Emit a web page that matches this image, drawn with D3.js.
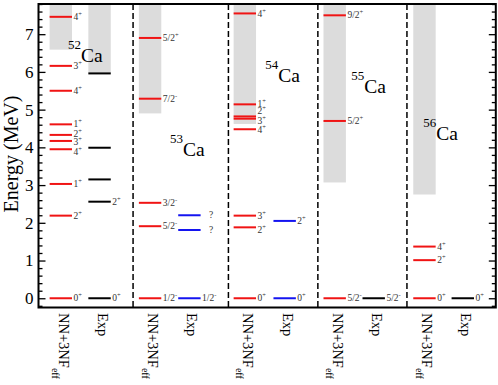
<!DOCTYPE html>
<html><head><meta charset="utf-8">
<script src="https://cdn.jsdelivr.net/npm/d3@7"></script>
<style>body{margin:0;background:#fff} svg text{font-family:"Liberation Serif","Times New Roman","DejaVu Serif",serif;}</style>
</head><body><svg id="c" width="498" height="385"></svg>
<script>
// ---------- data ----------
const massNumbers = ["52", "53", "54", "55", "56"];
const columnNames = ["NN+3NF", "Exp"];
const theoryX = [0.488, 2.44, 4.512, 6.477, 8.44];
const expX = [1.335, 3.30, 5.383, 7.330, 9.278];
const separatorX = [2.068, 4.153, 6.109, 8.057];

const theoryE = [
  [0, 2.19, 3.03, 3.95, 4.17, 4.33, 4.61, 5.50, 6.16, 7.46],
  [0, 1.91, 2.53, 5.29, 6.90],
  [0, 1.88, 2.19, 4.48, 4.76, 4.82, 5.14, 7.55],
  [0, 4.70, 7.50],
  [0, 1.01, 1.37]
];
const theoryJ = [
  ["0+", "2+", "1+", "4+", "3+", "2+", "1+", "4+", "3+", "4+"],
  ["1/2-", "5/2-", "3/2-", "7/2-", "5/2+"],
  ["0+", "2+", "3+", "4+", "3+", "2+", "1+", "4+"],
  ["5/2-", "5/2+", "9/2+"],
  ["0+", "2+", "4+"]
];
const theoryLabelShift = [
  [0, 0, 0, -0.08, -0.03, 0.02, 0.02, 0, 0, 0],
  [0, 0, 0, 0, 0],
  [0, -0.07, 0, -0.02, -0.05, 0.16, 0.02, 0],
  [0, 0, 0],
  [0, 0, 0]
];
const expE = [
  [0, 2.56, 3.15, 3.99, 5.96],
  [0, 1.81, 2.20],
  [0, 2.05],
  [0],
  [0]
];
const expJ = [
  ["0+", "2+", "", "", ""],
  ["1/2-", "?", "?"],
  ["0+", "2+"],
  ["5/2-"],
  ["0+"]
];
const theoryBandBottom = [6.59, 4.90, 4.62, 3.07, 2.75];
const expBandBottom = [5.96, null, null, null, null];
const expColors = ["#000000", "#1414f0", "#1414f0", "#000000", "#000000"];
const nucleusLabelX = [0.645, 2.877, 4.956, 6.838, 8.413];
const nucleusLabelE = [6.26, 3.77, 5.73, 5.44, 4.19];
const yMajorTicks = [0, 1, 2, 3, 4, 5, 6, 7];

// ---------- layout ----------
const W = 498, H = 385;
const L = 38.5, R = 495.8, T = 4, B = 307.5;
const xs = d3.scaleLinear().domain([0, 10]).range([L, R]);
const ys = d3.scaleLinear().domain([-0.245, 7.8]).range([B, T]);
const HW = 0.245;
const RED = "#f01414", GREY = "#dcdcdc";
const SERIF = "Liberation Serif, Times New Roman, DejaVu Serif, serif";

const svg = d3.select("#c");
svg.append("rect").attr("width", W).attr("height", H).attr("fill", "#fff");

const plot = svg.append("g");

// bands
massNumbers.forEach((m, i) => {
  plot.append("rect")
    .attr("x", xs(theoryX[i] - HW)).attr("width", xs(theoryX[i] + HW) - xs(theoryX[i] - HW))
    .attr("y", ys(7.8)).attr("height", ys(theoryBandBottom[i]) - ys(7.8))
    .attr("fill", GREY);
  if (expBandBottom[i] != null) {
    plot.append("rect")
      .attr("x", xs(expX[i] - HW)).attr("width", xs(expX[i] + HW) - xs(expX[i] - HW))
      .attr("y", ys(7.8)).attr("height", ys(expBandBottom[i]) - ys(7.8))
      .attr("fill", GREY);
  }
});

// separators
plot.selectAll("line.sep").data(separatorX).join("line")
  .attr("class", "sep")
  .attr("x1", d => xs(d)).attr("x2", d => xs(d))
  .attr("y1", T).attr("y2", B)
  .attr("stroke", "#000").attr("stroke-width", 1.5)
  .attr("stroke-dasharray", "6,3");

function spinLabel(x, y, j) {
  if (!j) return;
  const mm = j.match(/^(.*?)([+-])$/);
  const main = mm ? mm[1] : j;
  const sup = mm ? mm[2] : null;
  const t = plot.append("text")
    .attr("x", x).attr("y", y).attr("dy", "0.33em")
    .style("font-family", SERIF).attr("font-size", 9.5).attr("fill", "#333");
  t.append("tspan").text(main);
  if (sup) t.append("tspan").attr("dy", -4).attr("font-size", 6.5).text(sup);
}

// levels
massNumbers.forEach((m, i) => {
  theoryE[i].forEach((e, k) => {
    plot.append("line")
      .attr("x1", xs(theoryX[i] - HW)).attr("x2", xs(theoryX[i] + HW))
      .attr("y1", ys(e)).attr("y2", ys(e))
      .attr("stroke", RED).attr("stroke-width", 2);
    spinLabel(xs(theoryX[i] + HW) + 1.5, ys(e + theoryLabelShift[i][k]), theoryJ[i][k]);
  });
  expE[i].forEach((e, k) => {
    plot.append("line")
      .attr("x1", xs(expX[i] - HW)).attr("x2", xs(expX[i] + HW))
      .attr("y1", ys(e)).attr("y2", ys(e))
      .attr("stroke", expColors[i]).attr("stroke-width", 2);
    const extra = expJ[i][k] === "?" ? 8.5 : 1.5;
    spinLabel(xs(expX[i] + HW) + extra, ys(e), expJ[i][k]);
  });
  // nucleus label
  const t = plot.append("text")
    .attr("x", xs(nucleusLabelX[i])).attr("y", ys(nucleusLabelE[i]))
    .style("font-family", SERIF).attr("fill", "#000");
  t.append("tspan").attr("font-size", 13).attr("dy", -13).text(m);
  t.append("tspan").attr("font-size", 19.5).attr("dy", 13).text("Ca");

  // column labels
  [theoryX[i], expX[i]].forEach((cx, c) => {
    const g = svg.append("g").attr("transform", `translate(${xs(cx) - 2},313) rotate(90)`);
    const tt = g.append("text").style("font-family", SERIF).attr("font-size", 14.5).attr("fill", "#000");
    tt.append("tspan").text(columnNames[c]);
    if (c === 0) tt.append("tspan").attr("font-size", 10).attr("dy", 6.5).text("eff");
  });
});

// axes
const minorTicks = d3.range(-1, 40).map(i => +(i * 0.2).toFixed(2))
  .filter(v => v >= -0.24 && v <= 7.8 && Math.abs(v - Math.round(v)) > 1e-6);

function styleAxis(g) {
  g.select(".domain").remove();
  g.attr("font-family", null);
  g.selectAll(".tick line").attr("stroke", "#000").attr("stroke-width", 1.3);
}
svg.append("g").attr("transform", `translate(${L},0)`)
  .call(d3.axisLeft(ys).tickValues(yMajorTicks).tickSize(-7).tickPadding(5).tickFormat(d3.format("d")))
  .call(styleAxis)
  .call(g => g.selectAll("text").style("font-family", SERIF).attr("font-size", 17).attr("fill", "#000"));
svg.append("g").attr("transform", `translate(${L},0)`)
  .call(d3.axisLeft(ys).tickValues(minorTicks).tickSize(-4).tickFormat(""))
  .call(styleAxis);
svg.append("g").attr("transform", `translate(${R},0)`)
  .call(d3.axisRight(ys).tickValues(yMajorTicks).tickSize(-7).tickFormat(""))
  .call(styleAxis);
svg.append("g").attr("transform", `translate(${R},0)`)
  .call(d3.axisRight(ys).tickValues(minorTicks).tickSize(-4).tickFormat(""))
  .call(styleAxis);

// frame
svg.append("rect").attr("x", L).attr("y", T).attr("width", R - L).attr("height", B - T)
  .attr("fill", "none").attr("stroke", "#000").attr("stroke-width", 2);

// y label
svg.append("text").attr("transform", `translate(17.5,154) rotate(-90)`)
  .attr("text-anchor", "middle").style("font-family", SERIF).attr("font-size", 20)
  .attr("fill", "#000").text("Energy (MeV)");
</script>
</body></html>
